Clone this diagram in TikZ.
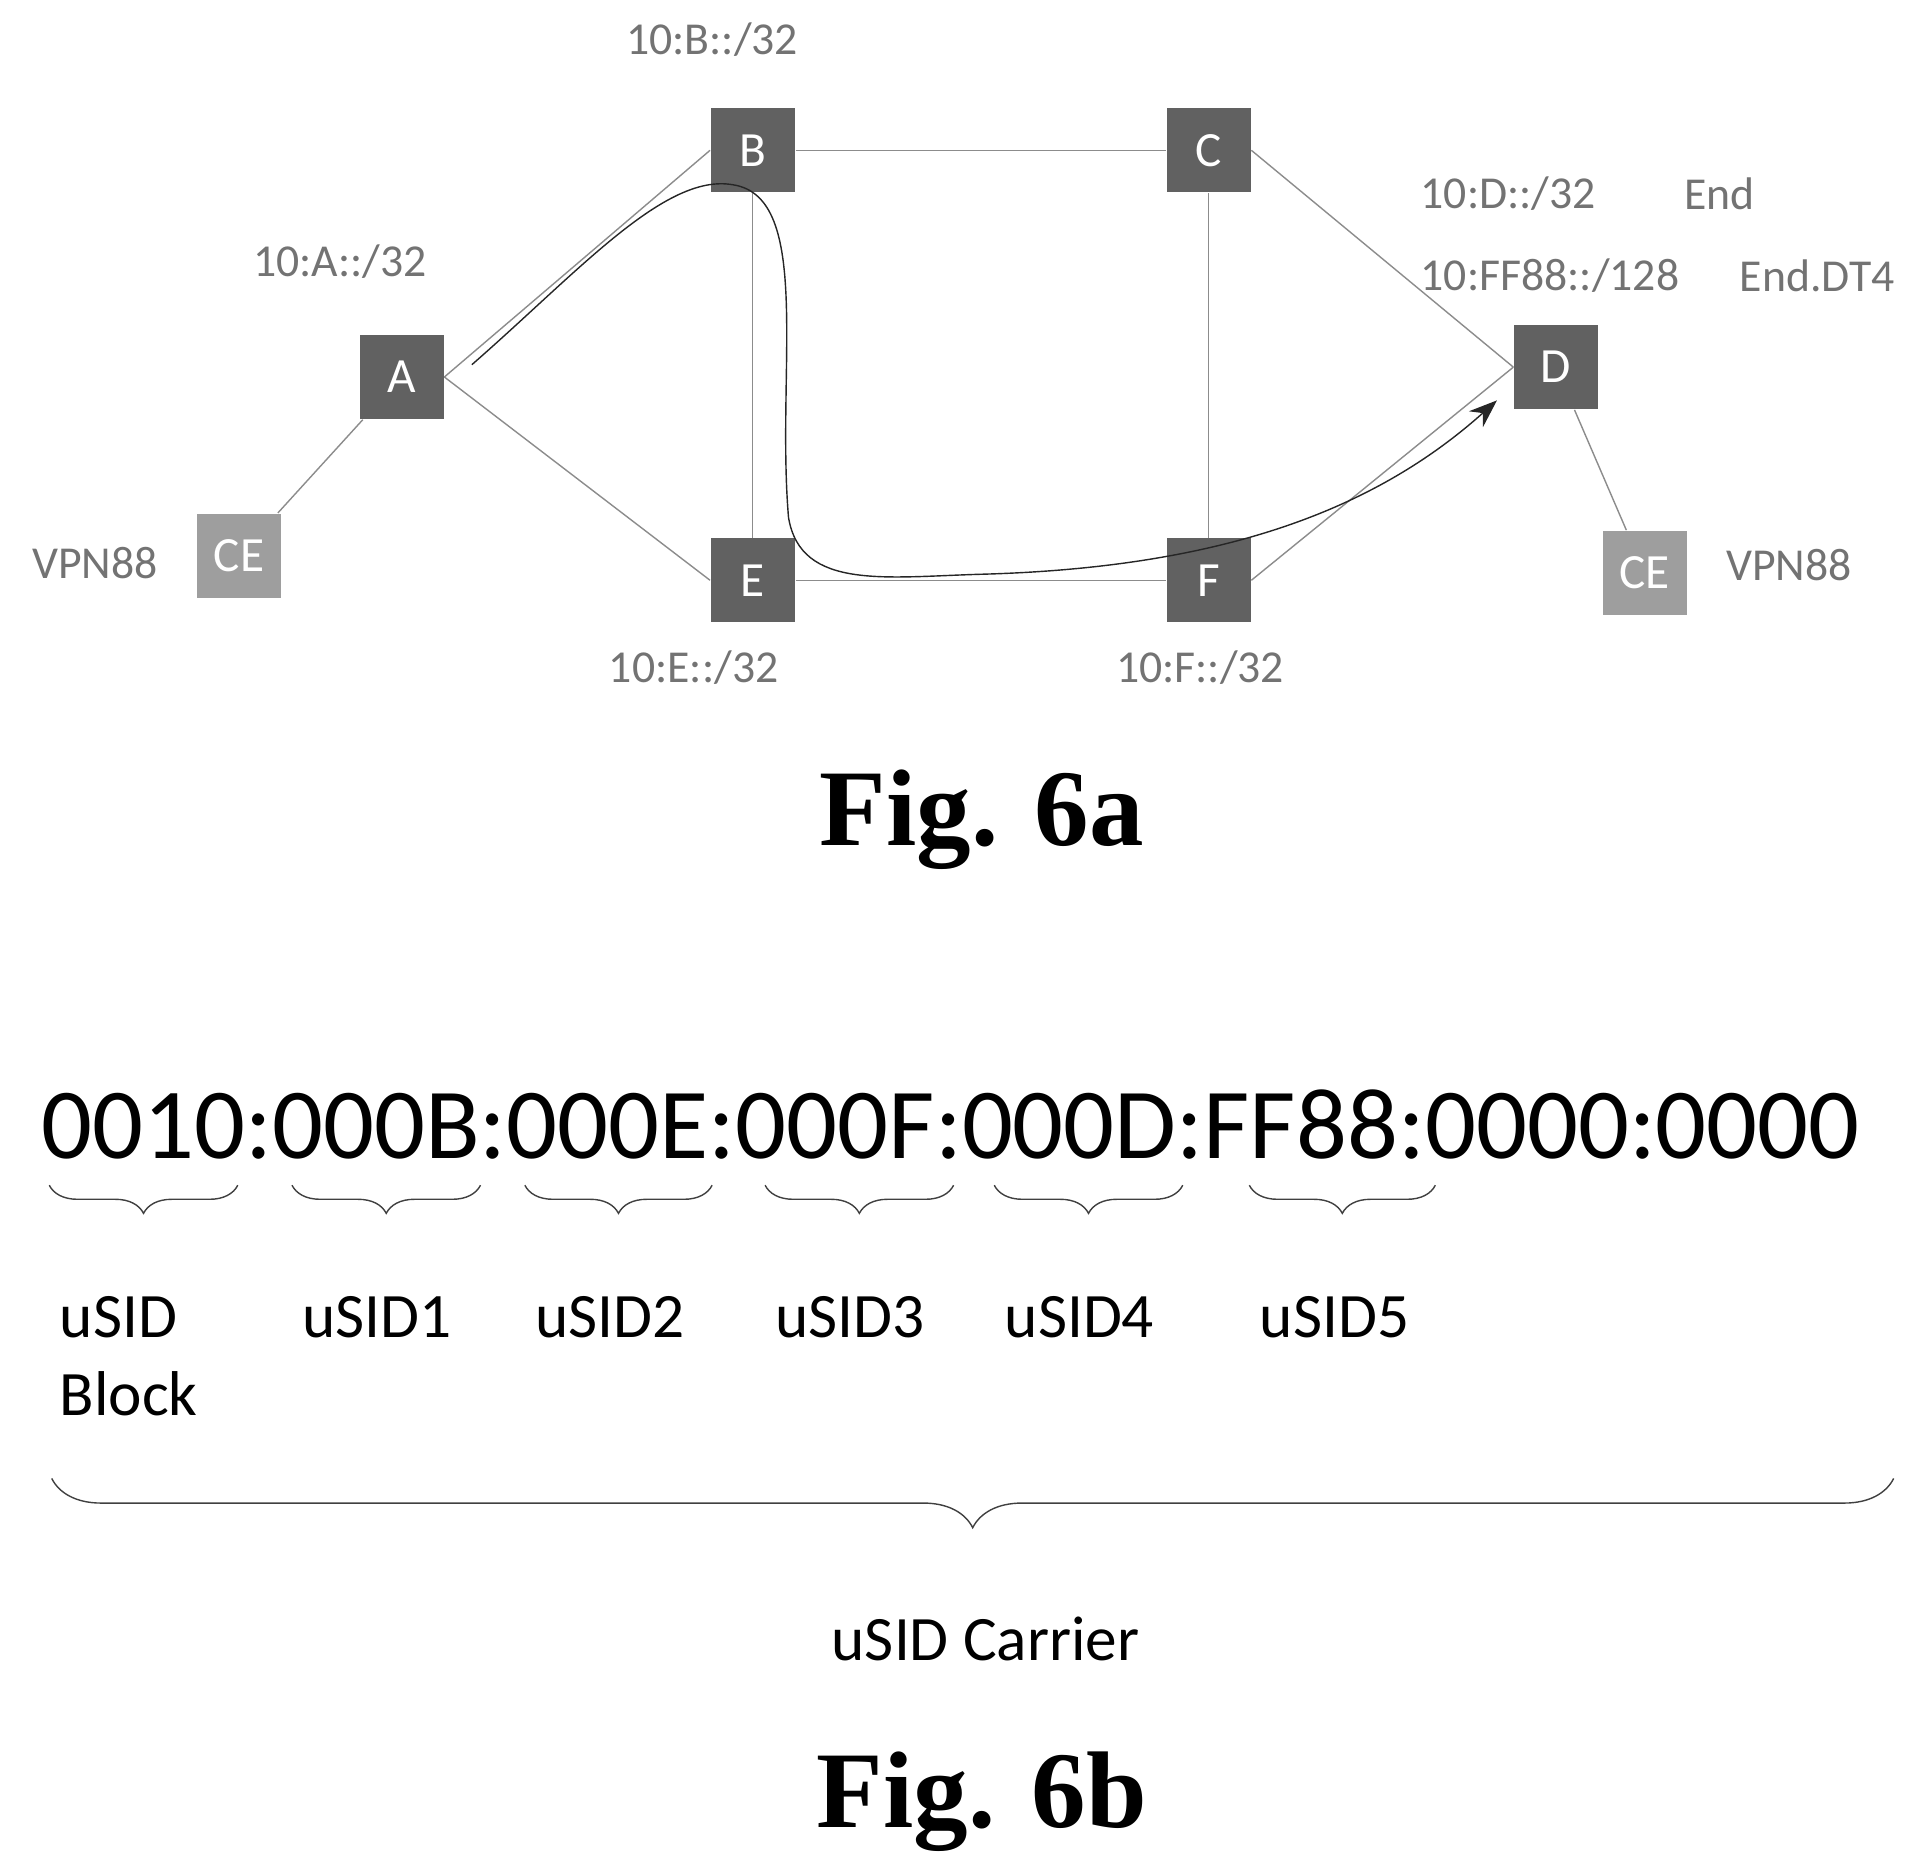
\documentclass[tikz,border=0pt]{standalone}
\usepackage{fontspec}
\setmainfont{Carlito}
\newfontfamily\figfont{Liberation Serif}
\usetikzlibrary{decorations.pathreplacing,arrows.meta}
\tikzset{
  router/.style={draw=none, fill=black!62, minimum size=0.84cm, inner sep=0pt, text=white, font=\fontsize{14}{14}\selectfont},
  ce/.style={router, fill=black!38},
  addr/.style={text=black!55, font=\fontsize{13}{13}\selectfont},
  link/.style={black!45, thin},
  hexbrace/.style={decorate, decoration={brace, mirror, amplitude=8pt}, black!75},
  sidlabel/.style={font=\fontsize{18}{22}\selectfont, align=left},
  figcap/.style={font=\figfont\bfseries\fontsize{31}{31}\selectfont}
}
\begin{document}
\begin{tikzpicture}[x=0.01232cm, y=-0.01232cm]
% frame
\useasboundingbox (0,0) rectangle (1560,1520);

% routers
\node[router] (B) at (611,122) {B};
\node[router] (C) at (981,122) {C};
\node[router] (A) at (326,306) {A};
\node[router] (E) at (611,471) {E};
\node[router] (F) at (981,471) {F};
\node[router] (D) at (1263,298) {D};
\node[ce] (ceA) at (194,451) {CE};
\node[ce] (ceD) at (1335,465) {CE};

% links
\draw[link] (A.east) -- (B.west);
\draw[link] (A.east) -- (E.west);
\draw[link] (A) -- (ceA);
\draw[link] (B) -- (C);
\draw[link] (B) -- (E);
\draw[link] (C) -- (F);
\draw[link] (E) -- (F);
\draw[link] (C.east) -- (D.west);
\draw[link] (F.east) -- (D.west);
\draw[link] (D) -- (ceD);

% path
\coordinate (p0) at (383,296);
\coordinate (p1) at (1215,325);
\draw[-{Stealth[length=8pt]}, black!85] (p0) .. controls (470,220) and (540,140) .. (595,150)
  .. controls (660,160) and (630,300) .. (640,420)
  .. controls (650,480) and (720,468) .. (800,466)
  .. controls (1000,460) and (1120,410) .. (p1);

% addresses
\node[addr] (lB) at (578,32) {10:B::/32};
\node[addr] (lA) at (276,212) {10:A::/32};
\node[addr] (lE) at (563,542) {10:E::/32};
\node[addr] (lF) at (974,542) {10:F::/32};
\node[addr, anchor=west] (lD) at (1143,157) {10:D::/32};
\node[addr, anchor=west] (lD2) at (1143,224) {10:FF88::/128};
\node[addr, anchor=west] (eD) at (1357,157) {End};
\node[addr, anchor=west] (eD2) at (1402,224) {End.DT4};
\node[addr] (vA) at (77,457) {VPN88};
\node[addr] (vD) at (1452,459) {VPN88};

\node[figcap] (fa) at (797,665) {Fig. 6a};

% uSID carrier
\node[anchor=base west, inner sep=0pt, font=\fontsize{28.6}{29}\selectfont] (hex) at (33,940) {0010:000B:000E:000F:000D:FF88:0000:0000};
\foreach \xa/\xb/\lab in {40/193/{uSID\\Block}, 237/390/uSID1, 426/578/uSID2, 621/774/uSID3, 807/960/uSID4, 1014/1165/uSID5} {
  \draw[hexbrace] (\xa,962) -- (\xb,962);
  \node[sidlabel, anchor=north west, inner sep=0pt] at (\xa+8,1052) {\lab};
}
\draw[hexbrace, decoration={amplitude=14pt}] (42,1200) -- (1537,1200);
\node[sidlabel] (carrier) at (800,1330) {uSID Carrier};

\node[figcap] (fb) at (797,1462) {Fig. 6b};
\end{tikzpicture}
\end{document}
